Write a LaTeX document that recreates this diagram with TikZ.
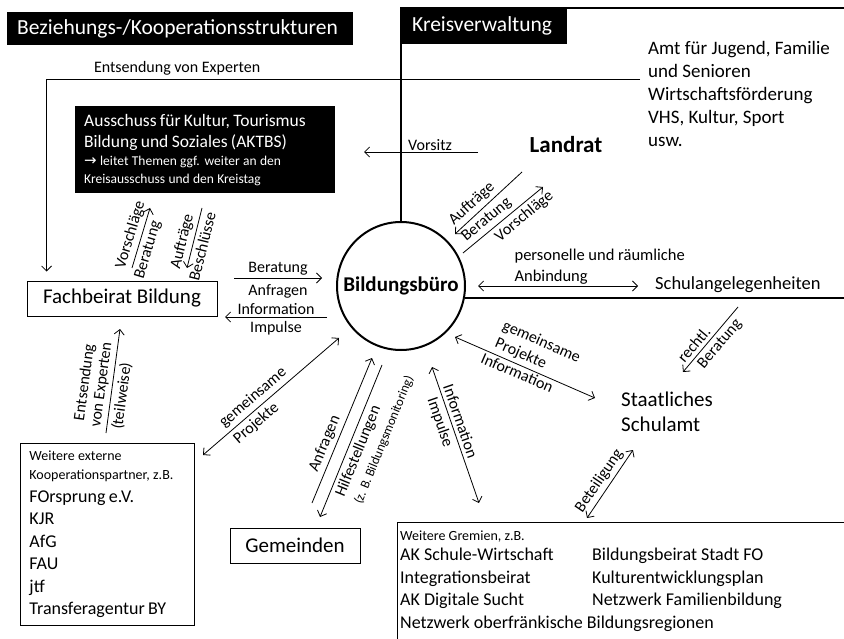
\documentclass[tikz,border=0pt]{standalone}
\usepackage{fontspec}
\setmainfont{Carlito}
\newfontfamily\symfont{DejaVu Sans}
\usetikzlibrary{arrows.meta,positioning,calc}
\newcommand{\fsz}[2]{\fontsize{#1}{#2}\selectfont}
\tikzset{
	>={Straight Barb[length=5pt,width=10pt]},
	%
	blackbox/.style={
		rectangle, fill=black, text=white, anchor=north west,
		inner xsep=10pt, inner ysep=0pt, align=left
	},
	%
	whitebox/.style={
		rectangle, draw=black, line width=0.9pt
	},
	%
	frame/.style={line width=2pt},
	%
	link/.style={->, line width=0.8pt},
	%
	twolink/.style={<->, line width=0.8pt},
	%
	lbl/.style={font=\fsz{16}{19}, inner sep=1pt},
	%
	slbl/.style={lbl, sloped, inner sep=3.5pt}
}

\begin{document}
\begin{tikzpicture}[x=1pt, y=-1pt]
    \useasboundingbox (0,0) rectangle (844,639);
    \clip (0,0) rectangle (844,639);
    % headings
    \node(bz)[blackbox, text width=326pt, minimum height=33pt, font=\fsz{21.5}{25}] at (7,12) {Beziehungs-/Kooperationsstrukturen};
    \node(kv)[blackbox, inner xsep=11pt, text width=144pt, minimum height=36pt, font=\fsz{21.5}{25}] at (401,8) {Kreisverwaltung};
    % centre and Kreisverwaltung
    \node(bb)[circle, draw, line width=2pt, minimum size=128pt, inner sep=0pt, font=\bfseries\fsz{21}{25}] at (401,286) {Bildungsbüro};
    \draw[frame] (844,8) -- (kv.north west) -- (kv.north west |- bb.north);
    \draw[frame] (bb.-11) -- ++(400,0);
    \node(lr)[font=\bfseries\fsz{23}{27}] at (566,145) {Landrat};
    \node(amt)[anchor=north west, align=left, inner sep=0pt, font=\fsz{19}{23}] at (648,41) {Amt für Jugend, Familie\\und Senioren\\Wirtschaftsförderung\\VHS, Kultur, Sport\\usw.};
    \node(sa)[anchor=west, inner sep=0pt, font=\fsz{18.5}{22}] at (655,285) {Schulangelegenheiten};
    \node(ss)[anchor=west, align=left, inner sep=0pt, font=\fsz{21}{25}] at (621,412) {Staatliches\\Schulamt};
    % boxes on the left
    \node(aus)[blackbox, inner xsep=9pt, text width=242pt, minimum height=87pt] at (75,106) {%
        {\fsz{17.5}{21}Ausschuss für Kultur, Tourismus\\Bildung und Soziales (AKTBS)\par}
        {\fsz{13.5}{18}{\symfont\fsz{15}{18}→} leitet Themen ggf. weiter an den\\Kreisausschuss und den Kreistag\par}};
    \node(fb)[whitebox, minimum width=190pt, minimum height=35pt, font=\fsz{21}{25}] at (122,298.5) {Fachbeirat Bildung};
    \node(ext)[whitebox, anchor=north west, text width=156pt, inner xsep=9pt, minimum height=182pt, align=left] at (20,443) {%
        {\fsz{14}{19}Weitere externe\\Kooperationspartner, z.B.\par}
        {\fsz{18}{22.5}FOrsprung e.V.\\KJR\\AfG\\FAU\\jtf\\Transferagentur BY\par}};
    \node(gm)[whitebox, minimum width=130pt, minimum height=35pt, font=\fsz{21}{25}] at (295,545.5) {Gemeinden};
    \node(wg)[whitebox, anchor=north west, minimum width=447pt, minimum height=125pt] at (397,522) {};
    \node(wgt)[anchor=north west, inner sep=0pt, font=\fsz{18}{22.5}] at (400,525) {%
        \begin{tabular}{@{}p{192pt}@{}l@{}}
        \multicolumn{2}{@{}l@{}}{\fsz{14}{17}Weitere Gremien, z.B.}\\[-2.5pt]
        AK Schule-Wirtschaft & Bildungsbeirat Stadt FO\\
        Integrationsbeirat & Kulturentwicklungsplan\\
        AK Digitale Sucht & Netzwerk Familienbildung\\
        \multicolumn{2}{@{}l@{}}{Netzwerk oberfränkische Bildungsregionen}
        \end{tabular}};
    % free ends of the connectors
    \coordinate(expR) at (640,79);
    \coordinate(vsR) at (478,152);
    \coordinate(vsL) at (364,152);
    \coordinate(lrA) at (522,172);
    \coordinate(lrB) at (455,234);
    \coordinate(lrC) at (463,253);
    \coordinate(lrD) at (543,187);
    \coordinate(anbL) at (478,286);
    \coordinate(anbR) at (638,286);
    \coordinate(ausA) at (132,268);
    \coordinate(ausB) at (150,208);
    \coordinate(ausC) at (202,208);
    \coordinate(ausD) at (187,268);
    \coordinate(fbA) at (234,278);
    \coordinate(fbB) at (322,278);
    \coordinate(fbC) at (327,317);
    \coordinate(fbD) at (225,317);
    \coordinate(extA) at (106,433);
    \coordinate(extB) at (120,329);
    \coordinate(extC) at (203,455);
    \coordinate(extD) at (339,338);
    \coordinate(gmA) at (312,503);
    \coordinate(gmB) at (372,358);
    \coordinate(gmC) at (382,365);
    \coordinate(gmD) at (320,517);
    \coordinate(wgA) at (432,367);
    \coordinate(wgB) at (479,503);
    \coordinate(ssA) at (455,337);
    \coordinate(ssB) at (595,398);
    \coordinate(saA) at (738,307);
    \coordinate(saB) at (683,372);
    \coordinate(wgC) at (587,518);
    \coordinate(wgD) at (633,450);
    % connectors
    \draw[link] (expR) -| node[lbl, above=2pt, pos=0.39]{Entsendung von Experten} ([xshift=20pt, yshift=9pt]fb.north west);
    \draw[link] (vsR) -- node[lbl, above, pos=0.42]{Vorsitz} (vsL);
    \draw[link] (lrA) -- node[slbl, above, pos=0.64]{Aufträge} (lrB);
    \draw[link] (lrC) -- node[slbl, above, pos=0.38]{Beratung} node[slbl, below, pos=0.68]{Vorschläge} (lrD);
    \draw[twolink] (anbL) -- node[lbl, anchor=south west, align=left, pos=0.22, font=\fsz{16.5}{21}]{personelle und räumliche\\Anbindung} (anbR);
    \draw[link] (ausA) -- node[slbl, above, pos=0.5]{Vorschläge} node[slbl, below, pos=0.35]{Beratung} (ausB);
    \draw[link] (ausC) -- node[slbl, above, pos=0.6]{Aufträge} node[slbl, below, pos=0.6]{Beschlüsse} (ausD);
    \draw[link] (fbA) -- node[lbl, above=1pt]{Beratung} node[lbl, below=5pt]{Anfragen} (fbB);
    \draw[link] (fbC) -- node[lbl, above=1pt]{Information} node[lbl, below=3pt]{Impulse} (fbD);
    \draw[link] (extA) -- node[slbl, above, pos=0.45, align=center, font=\fsz{16}{17}]{Entsendung\\von Experten} node[slbl, below, pos=0.37]{(teilweise)} (extB);
    \draw[twolink] (extC) -- node[slbl, above, pos=0.42]{gemeinsame} node[slbl, below, pos=0.34]{Projekte} (extD);
    \draw[link] (gmA) -- node[slbl, above, pos=0.38]{Anfragen} (gmB);
    \draw[link] (gmC) -- node[slbl, anchor=north west, pos=0.86, align=left]{Hilfestellungen\\{\fsz{13}{15}(z. B. Bildungsmonitoring)}} (gmD);
    \draw[twolink] (wgA) -- node[slbl, above, pos=0.42]{Information} node[slbl, below, pos=0.38]{Impulse} (wgB);
    \draw[twolink] (ssA) -- node[slbl, anchor=south west, pos=0.235, align=left]{gemeinsame\\Projekte} node[slbl, anchor=north west, pos=0.2, inner sep=2pt]{Information} (ssB);
    \draw[link] (saA) -- node[slbl, above, pos=0.67]{rechtl.} node[slbl, below, pos=0.47]{Beratung} (saB);
    \draw[twolink] (wgC) -- node[slbl, above, pos=0.46]{Beteiligung} (wgD);
\end{tikzpicture}
\end{document}
